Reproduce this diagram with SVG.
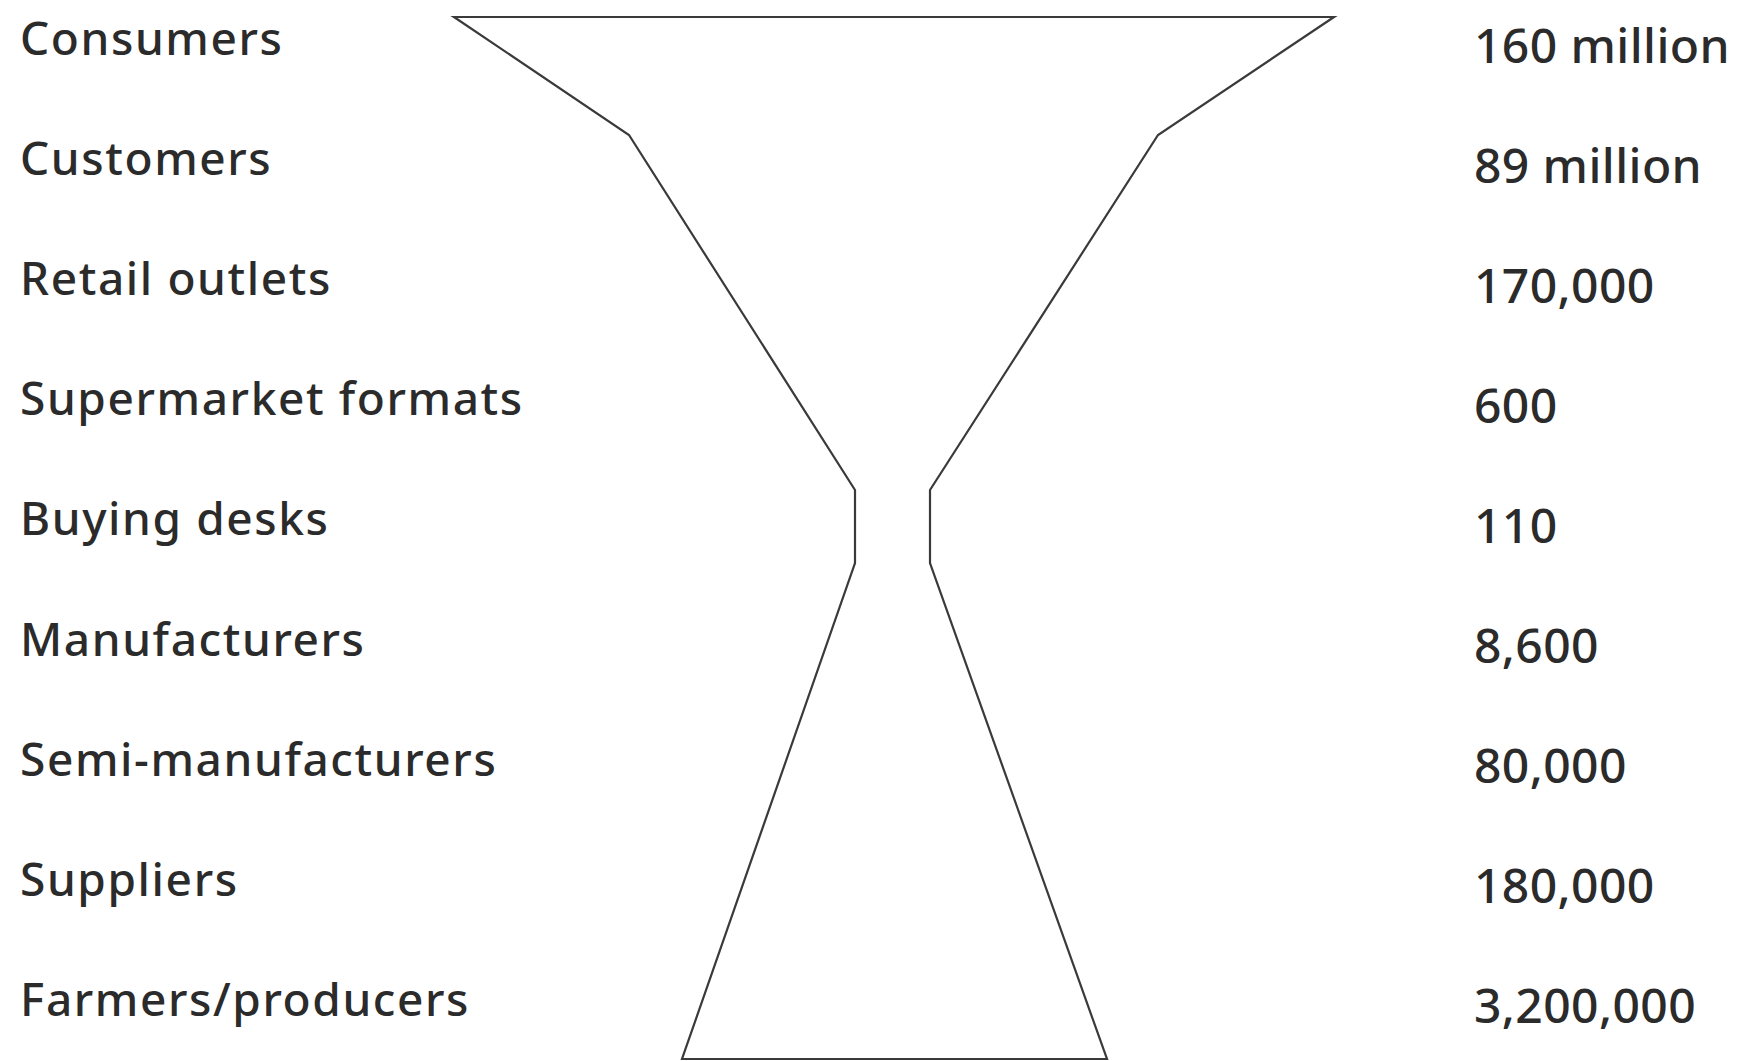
<svg xmlns="http://www.w3.org/2000/svg" width="1739" height="1061" viewBox="0 0 1739 1061">
<style>
.l{font-family:"Noto Sans","Open Sans",sans-serif;font-size:46px;font-weight:500;letter-spacing:1.6px;fill:#2b2b2b}
.r{font-family:"Noto Sans","Open Sans",sans-serif;font-size:48px;font-weight:500;letter-spacing:0.4px;fill:#2b2b2b}
.shape{fill:#fff;stroke:#3a3a3a;stroke-width:2.2;stroke-linejoin:miter}
</style>
<rect width="1739" height="1061" fill="#fff"/>
<g id="hourglass">
<polygon class="shape" points="454,17 1334,17 1158,135 930,490 930,563 1107,1059 682,1059 855,563 855,490 629,135"/>
</g>
<g id="labels">
<text class="l" x="20" y="55">Consumers</text>
<text class="l" x="20" y="175">Customers</text>
<text class="l" x="20" y="295">Retail outlets</text>
<text class="l" x="20" y="415">Supermarket formats</text>
<text class="l" x="20" y="535">Buying desks</text>
<text class="l" x="20" y="656">Manufacturers</text>
<text class="l" x="20" y="776">Semi-manufacturers</text>
<text class="l" x="20" y="896">Suppliers</text>
<text class="l" x="20" y="1016">Farmers/producers</text>
</g>
<g id="values">
<text class="r" x="1474" y="63">160 million</text>
<text class="r" x="1474" y="183">89 million</text>
<text class="r" x="1474" y="303">170,000</text>
<text class="r" x="1474" y="423">600</text>
<text class="r" x="1474" y="543">110</text>
<text class="r" x="1474" y="663">8,600</text>
<text class="r" x="1474" y="783">80,000</text>
<text class="r" x="1474" y="903">180,000</text>
<text class="r" x="1474" y="1023">3,200,000</text>
</g>
</svg>
